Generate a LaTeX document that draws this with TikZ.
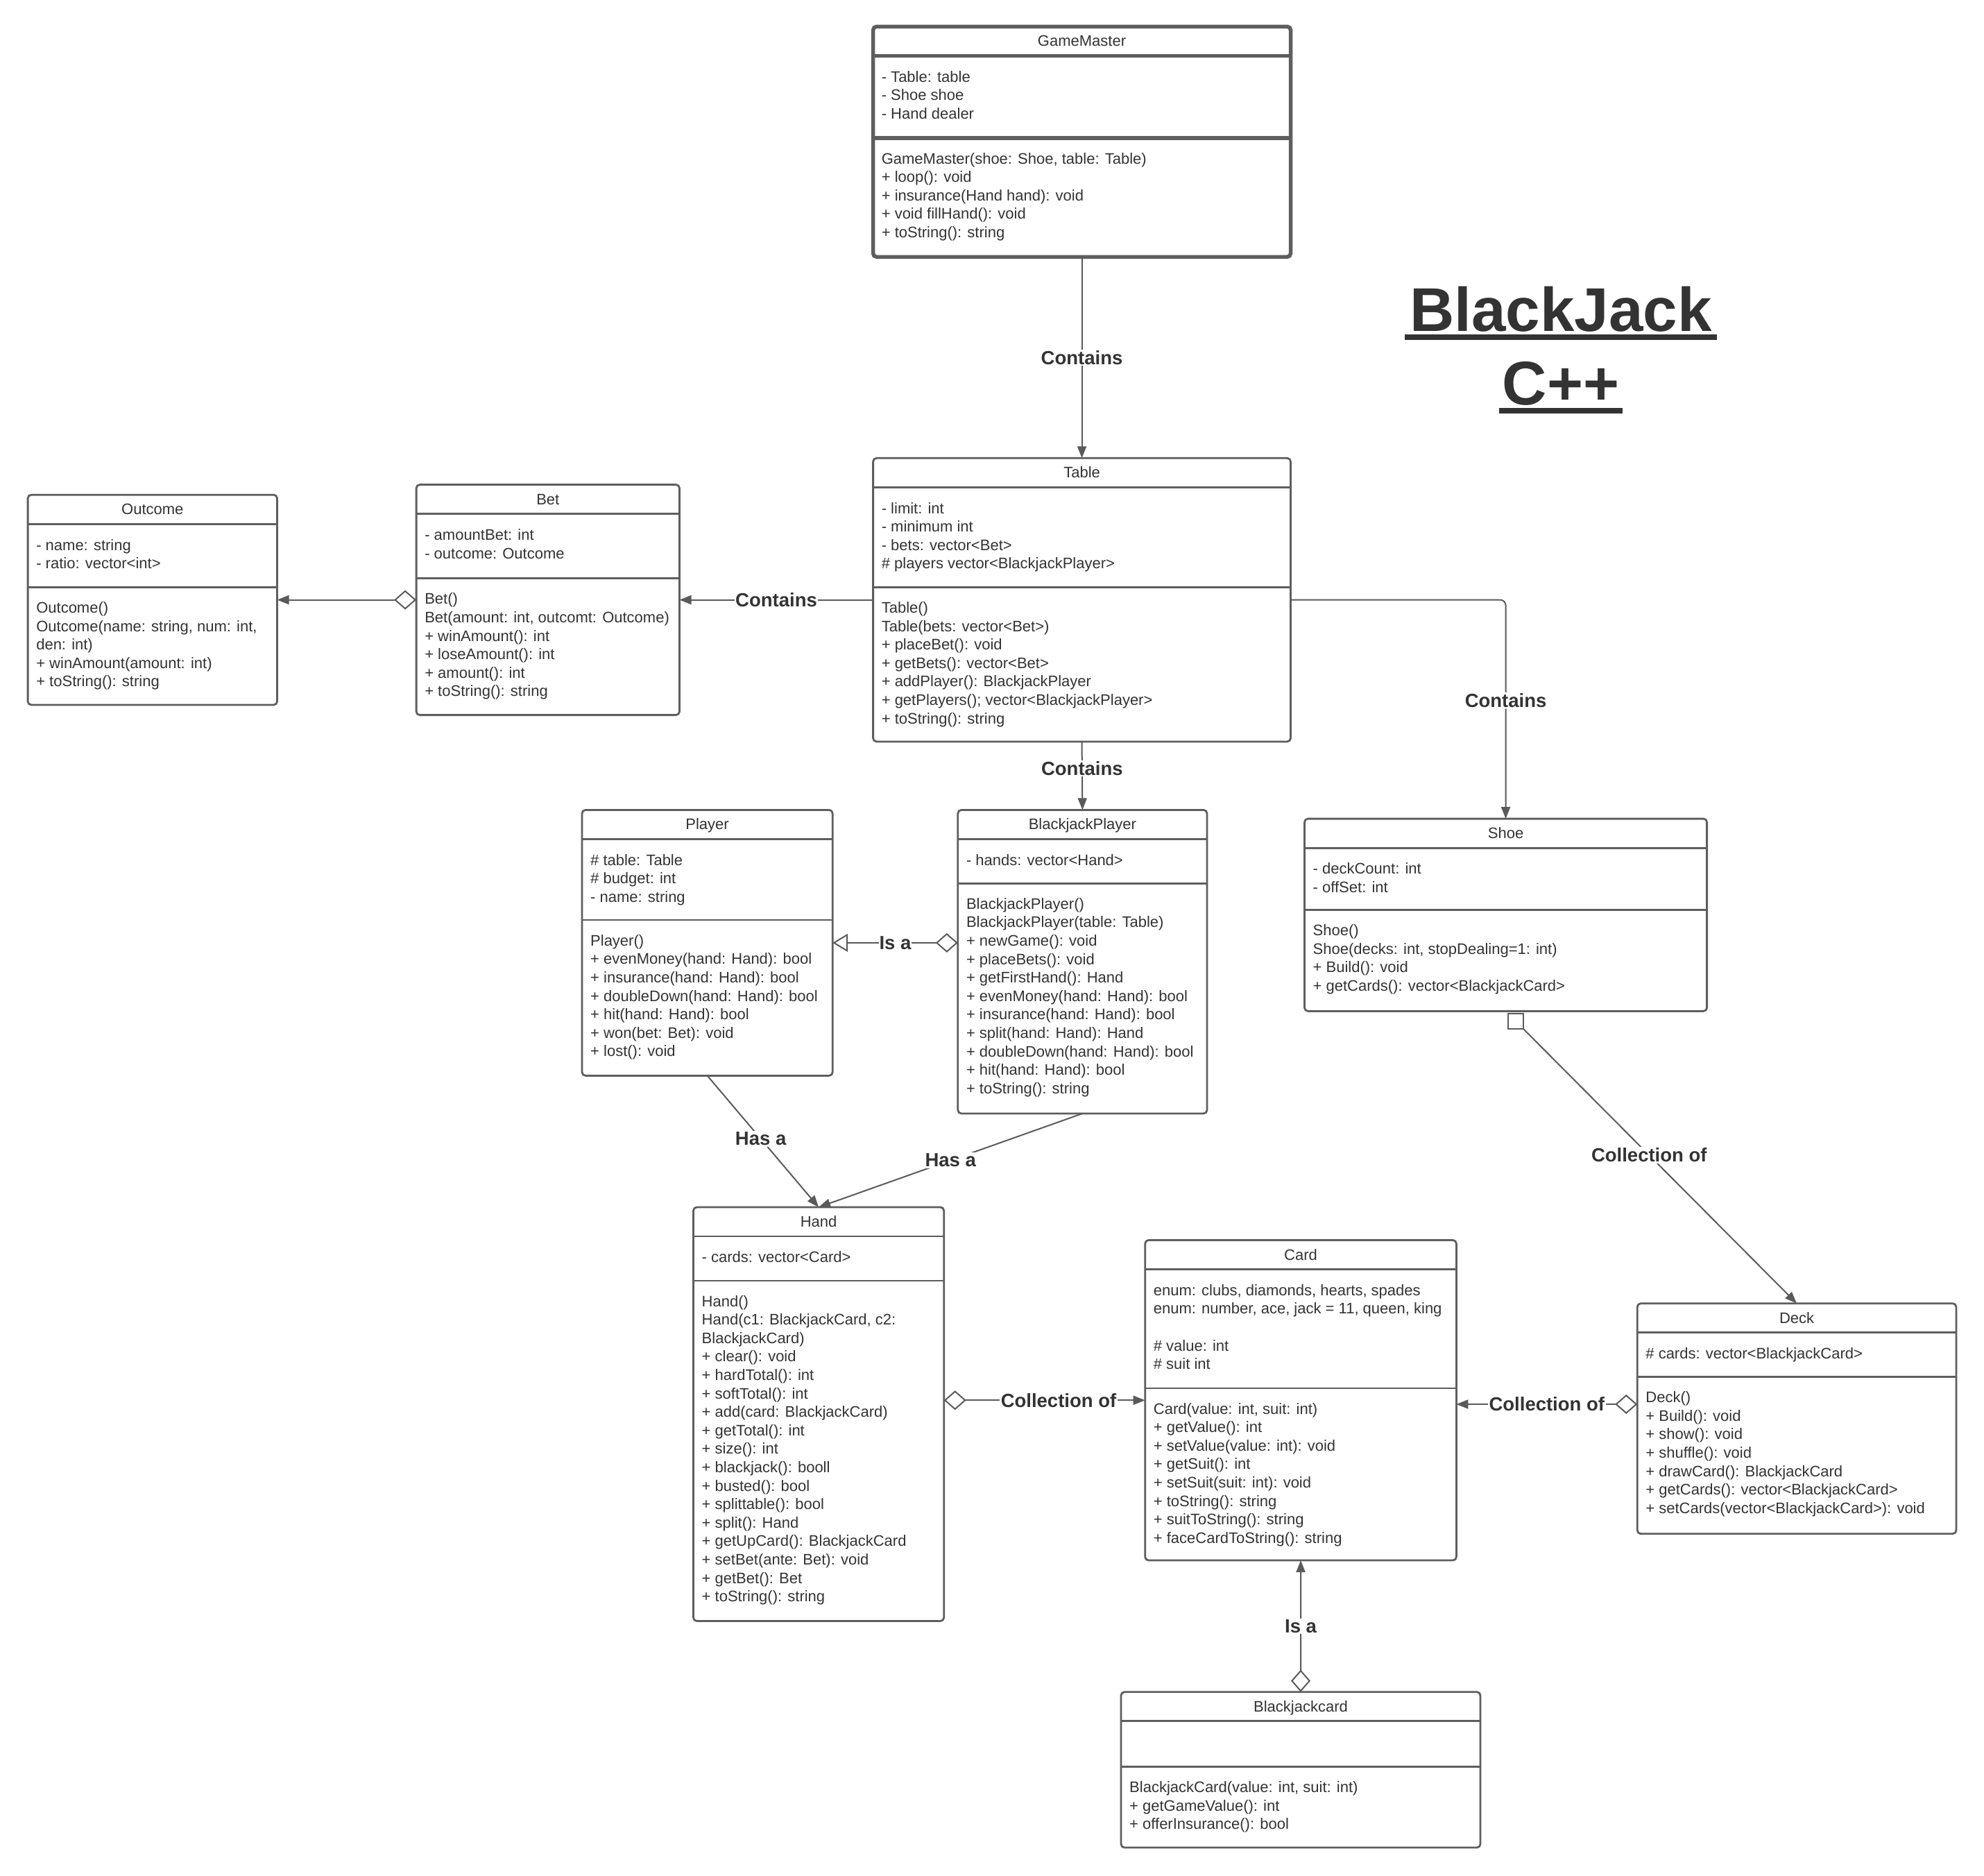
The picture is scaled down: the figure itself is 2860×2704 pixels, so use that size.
\documentclass[tikz,border=0pt]{standalone}
\usepackage{fontspec}
\setmainfont{Liberation Sans}
\usetikzlibrary{arrows.meta}
\definecolor{boxc}{HTML}{5E5E5E}
\definecolor{linec}{HTML}{5A5A5A}
\definecolor{textc}{HTML}{333333}
\tikzset{
 classlw/.style={line width=2.8pt},
 classbox/.style={draw=boxc, rounded corners=5pt, inner sep=0pt, outer sep=0pt, anchor=north west},
 body/.style={font=\fontsize{22}{26.6}\selectfont, text=textc, align=left, inner sep=0pt, anchor=north west},
 ctitle/.style={font=\fontsize{22}{26.6}\selectfont, text=textc, inner sep=0pt, anchor=base},
 conn/.style={draw=linec, line width=2pt},
 lab/.style={fill=white, text=textc, font=\bfseries\fontsize{27.5}{30}\selectfont, inner sep=1.5pt},
 bigtitle/.style={text=textc, font=\bfseries\fontsize{89}{100}\selectfont, inner sep=0pt, anchor=base},
 tri/.tip={Triangle[length=17pt,width=13pt]},
 dia/.tip={Diamond[open,length=32pt,width=28pt,line width=2pt]},
 inh/.tip={Triangle[open,length=22pt,width=26pt,line width=2pt]},
}
% #1 name, #2 x1, #3 y1, #4 x2, #5 y2, #6 second divider, #7 title, #8 attributes, #9 methods
\newcommand\umlbox[9]{%
 \node[classbox, classlw, minimum width={(#4-#2)*1pt}, minimum height={(#5-#3)*1pt}] (#1) at (#2,#3) {};
 \draw[draw=boxc, classlw] (#2,#3+42) -- (#4,#3+42);
 \draw[draw=boxc, classlw] (#2,#6) -- (#4,#6);
 \node[ctitle] (#1-t) at ({(#2+#4)/2},#3+28.5) {#7};
 \node[body] (#1-a) at (#2+12,#3+61) {\strut#8};
 \node[body] (#1-m) at (#2+12,#6+18.4) {\strut#9};
}
\begin{document}
\begin{tikzpicture}[x=1pt,y=-1pt]
\useasboundingbox[fill=white] (0,0) rectangle (2860,2704);

\begin{scope}[classlw/.style={line width=5.5pt}]
\umlbox{gm}{1258.6}{38.3}{1860.5}{370.3}{198.8}{GameMaster}
 {- Table: table\\- Shoe shoe\\- Hand dealer}
 {GameMaster(shoe: Shoe, table: Table)\\+ loop(): void\\+ insurance(Hand hand): void\\+ void fillHand(): void\\+ toString(): string}
\end{scope}

\umlbox{table}{1258.6}{660.3}{1860.5}{1068.9}{846.3}{Table}
 {- limit: int\\- minimum int\\- bets: vector<Bet>\\\# players vector<BlackjackPlayer>}
 {Table()\\Table(bets: vector<Bet>)\\+ placeBet(): void\\+ getBets(): vector<Bet>\\+ addPlayer(): BlackjackPlayer\\+ getPlayers(); vector<BlackjackPlayer>\\+ toString(): string}

\umlbox{outcome}{40.1}{713.2}{399.5}{1016}{846.3}{Outcome}
 {- name: string\\- ratio: vector<int>}
 {Outcome()\\Outcome(name: string, num: int,\\den: int)\\+ winAmount(amount: int)\\+ toString(): string}

\umlbox{bet}{600.1}{698.6}{979.5}{1030.6}{833.6}{Bet}
 {- amountBet: int\\- outcome: Outcome}
 {Bet()\\Bet(amount: int, outcomt: Outcome)\\+ winAmount(): int\\+ loseAmount(): int\\+ amount(): int\\+ toString(): string}

\umlbox{player}{839}{1167.4}{1200.2}{1550.4}{1326}{Player}
 {\# table: Table\\\# budget: int\\- name: string}
 {Player()\\+ evenMoney(hand: Hand): bool\\+ insurance(hand: Hand): bool\\+ doubleDown(hand: Hand): bool\\+ hit(hand: Hand): bool\\+ won(bet: Bet): void\\+ lost(): void}

\umlbox{bjp}{1380.8}{1167.4}{1740}{1605}{1273.1}{BlackjackPlayer}
 {- hands: vector<Hand>}
 {BlackjackPlayer()\\BlackjackPlayer(table: Table)\\+ newGame(): void\\+ placeBets(): void\\+ getFirstHand(): Hand\\+ evenMoney(hand: Hand): bool\\+ insurance(hand: Hand): bool\\+ split(hand: Hand): Hand\\+ doubleDown(hand: Hand): bool\\+ hit(hand: Hand): bool\\+ toString(): string}

\umlbox{shoe}{1880.5}{1180.1}{2460.6}{1457.4}{1311.5}{Shoe}
 {- deckCount: int\\- offSet: int}
 {Shoe()\\Shoe(decks: int, stopDealing=1: int)\\+ Build(): void\\+ getCards(): vector<BlackjackCard>}

\umlbox{hand}{999.5}{1740}{1360.7}{2336.5}{1845.9}{Hand}
 {- cards: vector<Card>}
 {Hand()\\Hand(c1: BlackjackCard, c2:\\BlackjackCard)\\+ clear(): void\\+ hardTotal(): int\\+ softTotal(): int\\+ add(card: BlackjackCard)\\+ getTotal(): int\\+ size(): int\\+ blackjack(): booll\\+ busted(): bool\\+ splittable(): bool\\+ split(): Hand\\+ getUpCard(): BlackjackCard\\+ setBet(ante: Bet): void\\+ getBet(): Bet\\+ toString(): string}

\umlbox{card}{1650.7}{1787.5}{2099.4}{2249}{2000.9}{Card}
 {enum: clubs, diamonds, hearts, spades\\enum: number, ace, jack = 11, queen, king\\\strut\\\# value: int\\\# suit int}
 {Card(value: int, suit: int)\\+ getValue(): int\\+ setValue(value: int): void\\+ getSuit(): int\\+ setSuit(suit: int): void\\+ toString(): string\\+ suitToString(): string\\+ faceCardToString(): string}

\umlbox{deck}{2360.2}{1878.7}{2819.9}{2210.7}{1984.5}{Deck}
 {\# cards: vector<BlackjackCard>}
 {Deck()\\+ Build(): void\\+ show(): void\\+ shuffle(): void\\+ drawCard(): BlackjackCard\\+ getCards(): vector<BlackjackCard>\\+ setCards(vector<BlackjackCard>): void}

\umlbox{bjc}{1616}{2438.7}{2134}{2663}{2546.3}{Blackjackcard}
 {}
 {BlackjackCard(value: int, suit: int)\\+ getGameValue(): int\\+ offerInsurance(): bool}

% title
\node[bigtitle] (t1) at (2250,477) {BlackJack};
\node[bigtitle] (t2) at (2250,583) {C++};
\fill[textc] ([xshift=-7pt,yshift=-5pt]t1.base west) rectangle ([xshift=7pt,yshift=-12.5pt]t1.base east);
\fill[textc] ([xshift=-5pt,yshift=-4.5pt]t2.base west) rectangle ([xshift=5pt,yshift=-13pt]t2.base east);

% connectors
\draw[conn, -tri] (gm.south) -- node[lab]{Contains} (table.north);
\draw[conn, -tri] (table.west) -- node[lab]{Contains} (bet.east |- table.west);
\draw[conn, dia-tri] (bet.west |- table.west) -- (outcome.east |- table.west);
\draw[conn, rounded corners=8pt, -tri] (table.east) -| node[lab, pos=0.73]{Contains} (shoe.north);
\draw[conn, -tri] (table.south) -- node[lab, pos=0.39]{Contains} (bjp.north);
\draw[conn, dia-inh] (bjp.west |- player.east) -- node[lab, inner sep=1pt]{Is a} (player.east);
\draw[conn, -tri] (player.south) -- node[lab, pos=0.48]{Has a} (hand.north);
\draw[conn, -tri] (bjp.south) -- node[lab]{Has a} (hand.north);
\draw[conn, dia-tri] (hand.east |- card.west) -- node[lab, pos=0.57]{Collection of} (card.west);
\coordinate (dcy) at (0,2024);
\draw[conn, dia-tri] (deck.west |- dcy) -- node[lab]{Collection of} (card.east |- dcy);
\node[draw=linec, line width=2pt, minimum size=22pt, inner sep=0pt, outer sep=0pt, anchor=north] (sq) at (2185,1461) {};
\draw[conn, -tri] (sq.south east) -- node[lab, pos=0.46]{Collection of} (deck.north);
\draw[conn, dia-tri] (bjc.north) -- node[lab]{Is a} (card.south);
\end{tikzpicture}
\end{document}
